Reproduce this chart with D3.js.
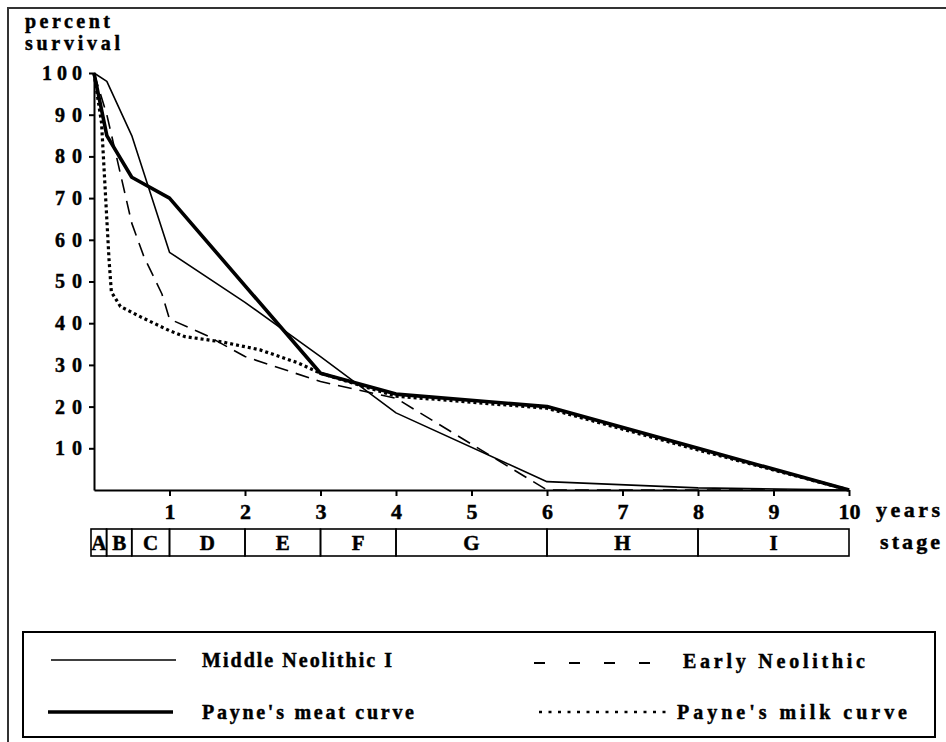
<!DOCTYPE html>
<html><head><meta charset="utf-8">
<script src="https://cdn.jsdelivr.net/npm/d3@7"></script>
<style>
body{margin:0;background:#fff;}
svg{display:block;}
text{font-family:"Liberation Serif","Times New Roman",serif;font-weight:bold;fill:#000;stroke:#000;stroke-width:0.45px;}
</style></head><body>
<svg id="chart" width="946" height="742"></svg>
<script>
// ---- data ----
const yearTicks = [1, 2, 3, 4, 5, 6, 7, 8, 9, 10];
const percentTicks = [10, 20, 30, 40, 50, 60, 70, 80, 90, 100];
const stageNames = ["A", "B", "C", "D", "E", "F", "G", "H", "I"];
const stageBounds = [0, 1/6, 0.5, 1, 2, 3, 4, 6, 8, 10];

const middleNeolithicX = [0, 0.17, 0.5, 1, 2, 3, 4, 6, 8, 10];
const middleNeolithicY = [100, 98, 85, 57, 45, 32, 18.5, 2, 0.5, 0];

const earlyNeolithicX = [0, 0.17, 0.5, 0.66, 0.9, 1, 1.5, 2, 3, 4, 6, 8, 10];
const earlyNeolithicY = [100, 90, 64, 56, 47, 41, 37, 32, 26, 22, 0, 0, 0];

const meatX = [0, 0.17, 0.5, 1, 3, 4, 6, 8, 10];
const meatY = [100, 85, 75, 70, 28, 23, 20, 10, 0];

const milkX = [0, 0.1, 0.2, 0.23, 0.35, 0.62, 1, 1.2, 1.7, 2.2, 2.7, 3, 4, 6, 8, 10];
const milkY = [100, 88, 55, 47.5, 44, 41.5, 38.2, 36.8, 35.5, 33.6, 30.5, 28, 22.5, 19.6, 9.6, 0];

const seriesNames = ["Middle Neolithic I", "Early Neolithic", "Payne's meat curve", "Payne's milk curve"];

// ---- chart ----
const svg = d3.select("#chart");
const x = d3.scaleLinear().domain([0, 10]).range([94, 849]);
const y = d3.scaleLinear().domain([0, 100]).range([490, 73]);

// outer frame
svg.append("path").attr("d", "M8,742V8H946").attr("fill", "none").attr("stroke", "#333").attr("stroke-width", 2);

function fitText(sel, len) {
  sel.attr("textLength", len).attr("lengthAdjust", "spacing");
}

// axis title
fitText(svg.append("text").attr("x", 25).attr("y", 28).attr("font-size", 20).text("percent"), 85);
fitText(svg.append("text").attr("x", 25).attr("y", 50).attr("font-size", 20).text("survival"), 95);

// y axis
const gy = svg.append("g").attr("transform", `translate(${x(0)},0)`)
  .call(d3.axisLeft(y).tickValues(percentTicks).tickSize(5).tickSizeOuter(0).tickPadding(8));
gy.select(".domain").attr("stroke", "#000").attr("stroke-width", 2);
gy.selectAll(".tick line").attr("stroke", "#000").attr("stroke-width", 2);
gy.selectAll(".tick text").attr("font-size", 20).attr("x", -12)
  .attr("textLength", d => String(d).length === 3 ? 40 : 27).attr("lengthAdjust", "spacing");

// x axis
const gx = svg.append("g").attr("transform", `translate(0,${y(0)})`)
  .call(d3.axisBottom(x).tickValues(yearTicks).tickSize(6).tickSizeOuter(0).tickPadding(7));
gx.select(".domain").attr("stroke", "#000").attr("stroke-width", 2);
gx.selectAll(".tick line").attr("stroke", "#000").attr("stroke-width", 2);
gx.selectAll(".tick text").attr("font-size", 22);

fitText(svg.append("text").attr("x", 876).attr("y", 517).attr("font-size", 22).text("years"), 64);
fitText(svg.append("text").attr("x", 880).attr("y", 549).attr("font-size", 22).text("stage"), 60);

// stage boxes
const stages = stageNames.map((n, i) => ({name: n, a: stageBounds[i], b: stageBounds[i + 1]}));
const sg = svg.append("g");
sg.selectAll("rect").data(stages).join("rect")
  .attr("x", d => x(d.a) - (d.a === 0 ? 3 : 0)).attr("y", 529)
  .attr("width", d => x(d.b) - x(d.a) + (d.a === 0 ? 3 : 0)).attr("height", 27)
  .attr("fill", "none").attr("stroke", "#000").attr("stroke-width", 1.6);
sg.selectAll("text").data(stages).join("text")
  .attr("x", d => (x(d.a) + x(d.b)) / 2 - (d.a === 0 ? 1.5 : 0)).attr("y", 550).attr("text-anchor", "middle")
  .attr("font-size", 21).text(d => d.name);

// lines
const line = d3.line().x(d => x(d[0])).y(d => y(d[1]));
const zip = (xs, ys) => xs.map((v, i) => [v, ys[i]]);
const series = [
  {data: zip(middleNeolithicX, middleNeolithicY), w: 1.6, dash: null},
  {data: zip(earlyNeolithicX, earlyNeolithicY), w: 1.6, dash: "14,8"},
  {data: zip(meatX, meatY), w: 3.6, dash: null},
  {data: zip(milkX, milkY), w: 3.2, dash: "3,3"}
];
svg.append("g").selectAll("path").data(series).join("path")
  .attr("d", d => line(d.data)).attr("fill", "none").attr("stroke", "#000")
  .attr("stroke-width", d => d.w).attr("stroke-dasharray", d => d.dash)
  .attr("stroke-linejoin", "round");

// legend
const lg = svg.append("g");
lg.append("rect").attr("x", 23).attr("y", 632).attr("width", 912).attr("height", 105)
  .attr("fill", "none").attr("stroke", "#000").attr("stroke-width", 2);
const legendItems = [
  {name: seriesNames[0], x1: 51, x2: 176, ly: 660, tx: 202, ty: 667, len: 190, w: 1.6, dash: null},
  {name: seriesNames[1], x1: 534, x2: 651, ly: 663, tx: 683, ty: 668, len: 182, w: 1.8, dash: "11,24"},
  {name: seriesNames[2], x1: 48, x2: 173, ly: 712, tx: 202, ty: 719, len: 212, w: 3.6, dash: null},
  {name: seriesNames[3], x1: 539, x2: 666, ly: 712, tx: 677, ty: 719, len: 230, w: 2.6, dash: "3,6.5"}
];
lg.selectAll("line").data(legendItems).join("line")
  .attr("x1", d => d.x1).attr("x2", d => d.x2).attr("y1", d => d.ly).attr("y2", d => d.ly)
  .attr("stroke", "#000").attr("stroke-width", d => d.w).attr("stroke-dasharray", d => d.dash);
lg.selectAll("text").data(legendItems).join("text")
  .attr("x", d => d.tx).attr("y", d => d.ty).attr("font-size", 20)
  .attr("textLength", d => d.len).attr("lengthAdjust", "spacing")
  .text(d => d.name);
</script>
</body></html>
